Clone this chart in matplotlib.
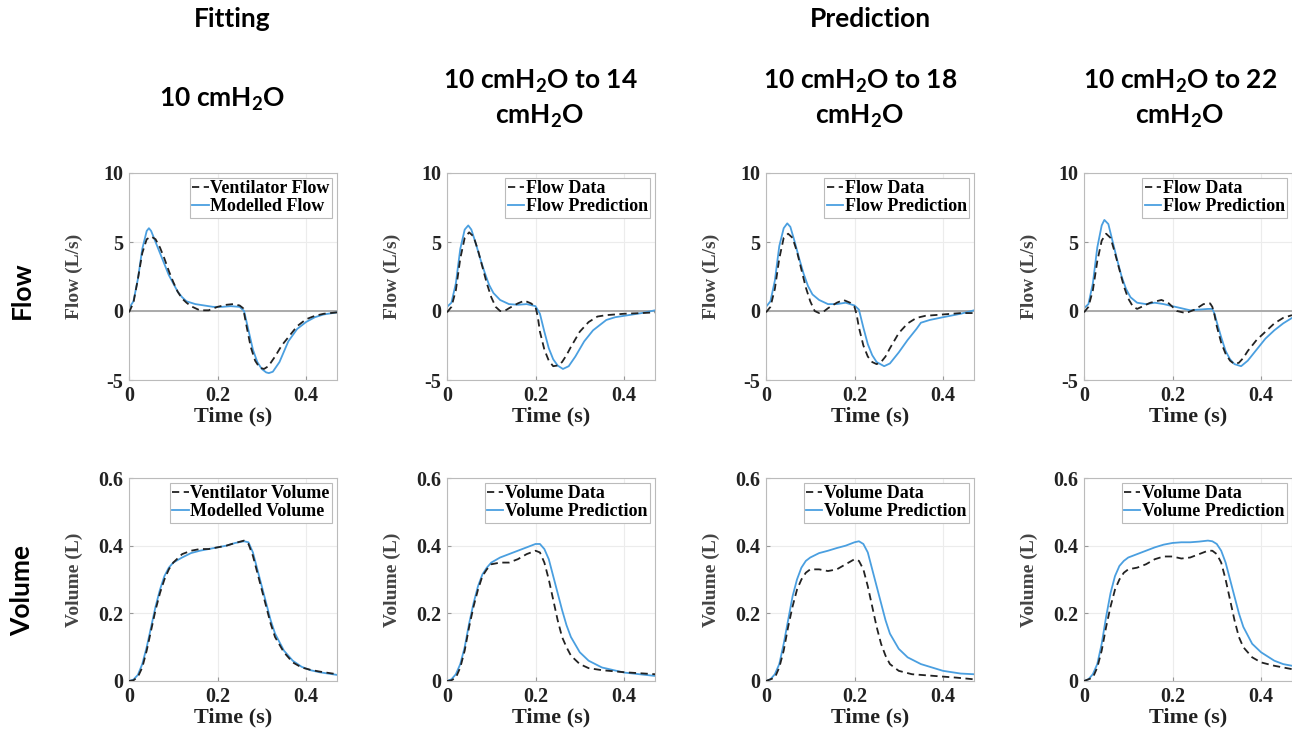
import matplotlib
matplotlib.use("Agg")
import matplotlib.pyplot as plt

# ---------------- data ----------------
# Flow panels (L/s)
t_flow_data_1 = [0,0.01,0.02,0.03,0.04,0.05,0.06,0.07,0.08,0.09,0.10,0.11,0.12,0.13,0.14,0.16,0.18,0.20,0.22,0.235,0.25,0.258,0.265,0.275,0.285,0.295,0.305,0.315,0.33,0.345,0.36,0.38,0.40,0.42,0.44,0.47]
flow_data_1 = [-0.1,0.6,2.3,4.2,5.2,5.4,5.2,4.6,3.8,2.9,2.1,1.4,0.9,0.6,0.35,0.05,0.05,0.3,0.45,0.5,0.4,0.2,-1.0,-2.6,-3.6,-4.1,-4.2,-4.0,-3.3,-2.5,-1.9,-1.1,-0.6,-0.35,-0.2,-0.1]
t_flow_model_1 = [0,0.01,0.02,0.03,0.04,0.045,0.05,0.06,0.07,0.08,0.09,0.10,0.11,0.12,0.13,0.15,0.17,0.19,0.21,0.23,0.25,0.26,0.27,0.28,0.29,0.30,0.31,0.316,0.325,0.34,0.36,0.38,0.40,0.42,0.44,0.47]
flow_model_1 = [0.2,0.7,2.3,4.5,5.8,6.0,5.8,5.0,4.2,3.4,2.6,2.0,1.4,1.0,0.7,0.5,0.4,0.3,0.3,0.35,0.3,0.0,-1.4,-2.8,-3.7,-4.2,-4.45,-4.5,-4.4,-3.7,-2.2,-1.3,-0.8,-0.45,-0.25,-0.1]

t_flow_data_2 = [0,0.01,0.02,0.03,0.04,0.05,0.06,0.07,0.08,0.09,0.10,0.11,0.12,0.13,0.14,0.16,0.175,0.19,0.20,0.205,0.21,0.22,0.23,0.24,0.25,0.26,0.27,0.28,0.30,0.32,0.34,0.36,0.40,0.44,0.47]
flow_data_2 = [-0.1,0.3,1.5,3.8,5.3,5.7,5.4,4.4,3.2,2.0,1.0,0.3,0.0,0.0,0.2,0.55,0.75,0.55,0.3,-0.4,-1.5,-2.8,-3.6,-4.0,-3.95,-3.7,-3.2,-2.6,-1.5,-0.8,-0.4,-0.3,-0.2,-0.15,-0.1]
t_flow_pred_2 = [0,0.01,0.02,0.03,0.04,0.048,0.055,0.065,0.075,0.085,0.095,0.105,0.12,0.14,0.16,0.18,0.20,0.21,0.22,0.23,0.24,0.25,0.262,0.275,0.29,0.31,0.33,0.35,0.36,0.38,0.40,0.44,0.47]
flow_pred_2 = [0.3,0.6,2.0,4.5,5.9,6.2,5.9,4.9,3.8,2.8,1.9,1.3,0.8,0.5,0.45,0.5,0.35,-0.2,-1.5,-2.7,-3.5,-3.95,-4.2,-4.0,-3.3,-2.2,-1.4,-0.9,-0.65,-0.45,-0.35,-0.15,0.05]

t_flow_data_3 = [0,0.01,0.02,0.03,0.04,0.05,0.06,0.07,0.08,0.09,0.10,0.11,0.12,0.13,0.14,0.16,0.175,0.19,0.20,0.205,0.21,0.22,0.23,0.24,0.25,0.26,0.27,0.28,0.30,0.32,0.34,0.36,0.40,0.44,0.47]
flow_data_3 = [-0.1,0.3,1.6,3.8,5.3,5.6,5.3,4.3,3.0,1.7,0.7,0.0,-0.15,-0.05,0.2,0.6,0.8,0.6,0.3,-0.3,-1.2,-2.5,-3.3,-3.7,-3.85,-3.7,-3.3,-2.7,-1.6,-0.9,-0.5,-0.35,-0.25,-0.15,-0.15]
t_flow_pred_3 = [0,0.01,0.02,0.03,0.04,0.048,0.055,0.065,0.075,0.085,0.095,0.105,0.12,0.14,0.16,0.18,0.20,0.21,0.22,0.23,0.24,0.25,0.267,0.28,0.30,0.32,0.34,0.35,0.37,0.40,0.44,0.47]
flow_pred_3 = [0.3,0.7,2.2,4.7,6.0,6.35,6.1,5.0,3.8,2.7,1.8,1.2,0.8,0.5,0.5,0.6,0.4,0.1,-1.2,-2.4,-3.2,-3.7,-4.0,-3.8,-3.0,-2.1,-1.3,-0.85,-0.65,-0.45,-0.2,0.05]

t_flow_data_4 = [0,0.01,0.02,0.03,0.04,0.05,0.06,0.07,0.08,0.09,0.10,0.11,0.12,0.13,0.15,0.175,0.19,0.20,0.21,0.23,0.25,0.27,0.285,0.29,0.295,0.30,0.31,0.32,0.33,0.34,0.35,0.36,0.37,0.39,0.41,0.43,0.45,0.47]
flow_data_4 = [-0.1,0.3,1.5,3.6,5.1,5.6,5.3,4.2,3.0,1.8,0.9,0.35,0.15,0.3,0.6,0.8,0.6,0.3,0.0,-0.15,0.1,0.5,0.55,0.3,-0.3,-1.1,-2.3,-3.1,-3.6,-3.85,-3.75,-3.4,-2.9,-2.1,-1.5,-0.9,-0.5,-0.3]
t_flow_pred_4 = [0,0.01,0.02,0.03,0.04,0.046,0.055,0.065,0.075,0.085,0.095,0.105,0.12,0.14,0.16,0.18,0.20,0.22,0.24,0.26,0.28,0.29,0.295,0.30,0.31,0.32,0.33,0.34,0.355,0.37,0.39,0.41,0.43,0.45,0.47]
flow_pred_4 = [0.2,0.5,2.0,4.6,6.2,6.6,6.3,5.0,3.7,2.5,1.6,1.0,0.6,0.5,0.6,0.5,0.35,0.2,0.05,0.1,0.15,0.15,-0.2,-0.8,-1.9,-2.9,-3.5,-3.85,-4.0,-3.6,-2.8,-2.0,-1.4,-0.9,-0.5]

# Volume panels (L)
t_vol_data_1 = [0,0.01,0.02,0.03,0.04,0.05,0.06,0.07,0.08,0.09,0.10,0.12,0.14,0.16,0.18,0.20,0.22,0.24,0.26,0.27,0.28,0.29,0.30,0.31,0.32,0.33,0.35,0.37,0.39,0.41,0.43,0.45,0.47]
vol_data_1 = [0,0.002,0.012,0.04,0.09,0.15,0.21,0.26,0.30,0.33,0.35,0.375,0.385,0.39,0.39,0.395,0.40,0.408,0.415,0.405,0.37,0.32,0.27,0.22,0.17,0.13,0.085,0.055,0.04,0.033,0.028,0.024,0.02]
t_vol_model_1 = [0,0.01,0.02,0.03,0.04,0.05,0.06,0.07,0.08,0.09,0.10,0.12,0.14,0.16,0.18,0.20,0.22,0.24,0.26,0.27,0.28,0.29,0.30,0.31,0.32,0.33,0.35,0.37,0.39,0.41,0.43,0.45,0.47]
vol_model_1 = [0,0.004,0.018,0.05,0.10,0.16,0.22,0.27,0.31,0.335,0.35,0.365,0.378,0.385,0.39,0.395,0.40,0.408,0.413,0.41,0.38,0.33,0.28,0.23,0.18,0.14,0.09,0.06,0.042,0.032,0.026,0.022,0.018]

t_vol_data_2 = [0,0.01,0.02,0.03,0.04,0.05,0.06,0.07,0.08,0.09,0.10,0.12,0.14,0.16,0.18,0.20,0.21,0.22,0.23,0.24,0.25,0.26,0.27,0.28,0.30,0.32,0.35,0.40,0.47]
vol_data_2 = [0,0.002,0.01,0.04,0.09,0.16,0.22,0.27,0.31,0.33,0.345,0.35,0.35,0.36,0.375,0.385,0.38,0.35,0.30,0.24,0.18,0.13,0.10,0.075,0.05,0.038,0.032,0.026,0.02]
t_vol_pred_2 = [0,0.01,0.02,0.03,0.04,0.05,0.06,0.07,0.08,0.09,0.10,0.12,0.14,0.16,0.18,0.20,0.21,0.22,0.23,0.24,0.25,0.26,0.27,0.28,0.30,0.32,0.35,0.40,0.47]
vol_pred_2 = [0,0.005,0.02,0.05,0.10,0.17,0.23,0.28,0.315,0.335,0.35,0.365,0.375,0.385,0.395,0.405,0.405,0.39,0.36,0.31,0.26,0.21,0.165,0.13,0.085,0.06,0.04,0.025,0.015]

t_vol_data_3 = [0,0.02,0.03,0.04,0.05,0.06,0.07,0.08,0.09,0.10,0.12,0.14,0.16,0.18,0.20,0.21,0.22,0.23,0.24,0.25,0.26,0.27,0.28,0.30,0.33,0.38,0.43,0.47]
vol_data_3 = [0,0.01,0.04,0.09,0.16,0.22,0.27,0.30,0.32,0.33,0.33,0.325,0.33,0.345,0.36,0.355,0.33,0.28,0.22,0.16,0.11,0.075,0.05,0.03,0.02,0.015,0.01,0.005]
t_vol_pred_3 = [0,0.01,0.02,0.03,0.04,0.05,0.06,0.07,0.08,0.09,0.10,0.12,0.14,0.16,0.18,0.20,0.21,0.22,0.23,0.24,0.25,0.26,0.27,0.28,0.30,0.32,0.35,0.40,0.44,0.47]
vol_pred_3 = [0,0.005,0.02,0.05,0.11,0.18,0.25,0.30,0.335,0.355,0.365,0.378,0.385,0.393,0.40,0.41,0.413,0.405,0.38,0.33,0.28,0.23,0.18,0.14,0.095,0.07,0.05,0.03,0.022,0.02]

t_vol_data_4 = [0,0.02,0.03,0.04,0.05,0.06,0.07,0.08,0.09,0.10,0.12,0.14,0.16,0.18,0.20,0.22,0.24,0.26,0.28,0.29,0.30,0.31,0.32,0.33,0.34,0.35,0.36,0.38,0.40,0.43,0.45,0.47]
vol_data_4 = [0,0.01,0.04,0.09,0.16,0.22,0.27,0.30,0.32,0.33,0.335,0.345,0.36,0.368,0.368,0.362,0.365,0.375,0.385,0.385,0.375,0.35,0.30,0.24,0.18,0.13,0.10,0.07,0.055,0.045,0.04,0.035]
t_vol_pred_4 = [0,0.01,0.02,0.03,0.04,0.05,0.06,0.07,0.08,0.09,0.10,0.12,0.14,0.16,0.18,0.20,0.22,0.24,0.26,0.28,0.29,0.30,0.31,0.32,0.33,0.34,0.35,0.36,0.38,0.40,0.43,0.45,0.47]
vol_pred_4 = [0,0.005,0.02,0.05,0.11,0.19,0.26,0.31,0.34,0.355,0.365,0.375,0.385,0.395,0.403,0.408,0.41,0.41,0.412,0.415,0.413,0.405,0.385,0.35,0.30,0.25,0.20,0.16,0.11,0.085,0.06,0.05,0.045]

flow_legends = [("Ventilator Flow", "Modelled Flow")] + [("Flow Data", "Flow Prediction")] * 3
vol_legends = [("Ventilator Volume", "Modelled Volume")] + [("Volume Data", "Volume Prediction")] * 3
col_titles = ["10 cmH$_\\mathbf{2}$O",
              "10 cmH$_\\mathbf{2}$O to 14\ncmH$_\\mathbf{2}$O",
              "10 cmH$_\\mathbf{2}$O to 18\ncmH$_\\mathbf{2}$O",
              "10 cmH$_\\mathbf{2}$O to 22\ncmH$_\\mathbf{2}$O"]
group_titles = ["Fitting", "Prediction"]
row_titles = ["Flow", "Volume"]
time_ticks = [0, 0.2, 0.4]
time_tick_labels = ["0", "0.2", "0.4"]
flow_ticks = [-5, 0, 5, 10]
flow_tick_labels = ["-5", "0", "5", "10"]
vol_ticks = [0, 0.2, 0.4, 0.6]
vol_tick_labels = ["0", "0.2", "0.4", "0.6"]

flow_series = [
    (t_flow_data_1, flow_data_1, t_flow_model_1, flow_model_1),
    (t_flow_data_2, flow_data_2, t_flow_pred_2, flow_pred_2),
    (t_flow_data_3, flow_data_3, t_flow_pred_3, flow_pred_3),
    (t_flow_data_4, flow_data_4, t_flow_pred_4, flow_pred_4),
]
vol_series = [
    (t_vol_data_1, vol_data_1, t_vol_model_1, vol_model_1),
    (t_vol_data_2, vol_data_2, t_vol_pred_2, vol_pred_2),
    (t_vol_data_3, vol_data_3, t_vol_pred_3, vol_pred_3),
    (t_vol_data_4, vol_data_4, t_vol_pred_4, vol_pred_4),
]

# ---------------- style ----------------
plt.rcParams['mathtext.fontset'] = 'custom'
plt.rcParams['mathtext.rm'] = 'Lato:bold'
plt.rcParams['mathtext.it'] = 'Lato:bold'
plt.rcParams['mathtext.bf'] = 'Lato:bold'

SERIF = 'Liberation Serif'
BLUE = '#4a9fe0'
W, H = 1292, 737
fig = plt.figure(figsize=(W / 100, H / 100), dpi=100)

col_left = [129, 447, 766, 1084]
ax_w = 208
rows_px = [(173, 380), (478, 681)]


def style_axes(ax, yticks, ylabels, ylim, ylab):
    ax.set_xlim(0, 0.47)
    ax.set_ylim(*ylim)
    ax.set_xticks(time_ticks)
    ax.set_xticklabels(time_tick_labels)
    ax.set_yticks(yticks)
    ax.set_yticklabels(ylabels)
    for lab in ax.get_xticklabels() + ax.get_yticklabels():
        lab.set_fontfamily(SERIF)
        lab.set_fontweight('bold')
        lab.set_fontsize(14.5)
        lab.set_color('#222222')
    ax.tick_params(direction='in', length=3, color='#999999', pad=4)
    ax.grid(True, color='#ececec', linewidth=0.8)
    ax.set_axisbelow(True)
    for s in ax.spines.values():
        s.set_color('#bbbbbb')
        s.set_linewidth(0.8)
    ax.set_xlabel("Time (s)", fontfamily=SERIF, fontweight='bold', fontsize=16,
                  color='#222222', labelpad=1)
    ax.set_ylabel(ylab, fontfamily=SERIF, fontweight='bold', fontsize=14,
                  color='#444444')
    ax.yaxis.set_label_coords(-46 / ax_w, 0.5)


def add_legend(ax):
    leg = ax.legend(loc='upper right', prop={'family': SERIF, 'weight': 'bold', 'size': 13},
                    handlelength=0.9, handletextpad=0.1, labelspacing=0.05,
                    borderpad=0.15, borderaxespad=0.25, fancybox=False, framealpha=1)
    leg.get_frame().set_edgecolor('#bbbbbb')
    leg.get_frame().set_linewidth(0.8)


for i in range(4):
    # Flow row
    top, bot = rows_px[0]
    ax = fig.add_axes([col_left[i] / W, 1 - bot / H, ax_w / W, (bot - top) / H])
    td, fd, tp, fp = flow_series[i]
    ax.axhline(0, color='#aaaaaa', linewidth=1.4, zorder=1)
    ax.plot(td, fd, color='#222222', linestyle=(0, (4, 2.5)), linewidth=1.3,
            label=flow_legends[i][0], zorder=3)
    ax.plot(tp, fp, color=BLUE, linewidth=1.3, label=flow_legends[i][1], zorder=2)
    style_axes(ax, flow_ticks, flow_tick_labels, (-5, 10), "Flow (L/s)")
    add_legend(ax)

    # Volume row
    top, bot = rows_px[1]
    ax = fig.add_axes([col_left[i] / W, 1 - bot / H, ax_w / W, (bot - top) / H])
    td, vd, tp, vp = vol_series[i]
    ax.plot(td, vd, color='#222222', linestyle=(0, (4, 2.5)), linewidth=1.3,
            label=vol_legends[i][0], zorder=3)
    ax.plot(tp, vp, color=BLUE, linewidth=1.3, label=vol_legends[i][1], zorder=2)
    style_axes(ax, vol_ticks, vol_tick_labels, (0, 0.6), "Volume (L)")
    add_legend(ax)

# Header texts
HFONT = dict(family='Lato', weight='bold', fontsize=19, color='black')
fig.text(232 / W, 1 - 19 / H, group_titles[0], ha='center', va='center', **HFONT)
fig.text(870 / W, 1 - 19 / H, group_titles[1], ha='center', va='center', **HFONT)
col_centers = [222, 540, 860, 1180]
for i, t in enumerate(col_titles):
    fig.text(col_centers[i] / W, 1 - 99 / H, t, ha='center', va='center',
             linespacing=1.35, **HFONT)
fig.text(22 / W, 1 - 290 / H, row_titles[0], rotation=90, ha='center', va='center', **HFONT)
fig.text(22 / W, 1 - 591 / H, row_titles[1], rotation=90, ha='center', va='center', **HFONT)

fig.savefig("out.png", dpi=100)
